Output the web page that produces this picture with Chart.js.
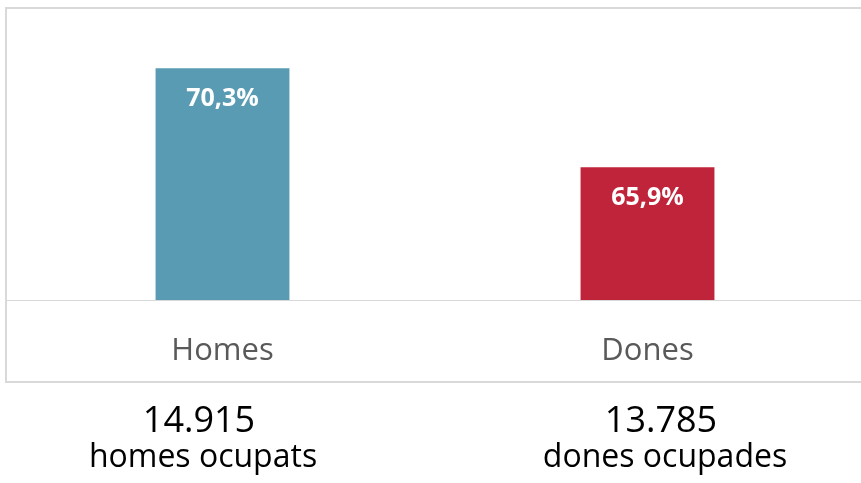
<!DOCTYPE html>
<html>
<head>
<meta charset="utf-8">
<script src="https://cdn.jsdelivr.net/npm/chart.js"></script>
<style>
  html, body { margin: 0; padding: 0; background: #fff; }
  #wrap { width: 861px; height: 483px; }
</style>
</head>
<body>
<div id="wrap"><canvas id="myChart" width="861" height="483"></canvas></div>
<script>
const categories = ["Homes", "Dones"]
const rates = [70.3, 65.9]          // % ocupats
const occupied = [14915, 13785]
const occupiedLabels = ["homes ocupats", "dones ocupades"]
const barColors = ["#599bb3", "#c0243a"]

const FONT = "'Open Sans', 'Liberation Sans', sans-serif"

const fmtPct = v => v.toFixed(1).replace('.', ',') + '%'
const fmtThousands = v => v.toString().replace(/\B(?=(\d{3})+(?!\d))/g, '.')

// box, baseline, value labels and the occupied counts under the box
const extras = {
  id: 'extras',
  beforeDraw(chart) {
    const ctx = chart.ctx
    const area = chart.chartArea
    ctx.save()
    ctx.strokeStyle = '#d9d9d9'
    ctx.lineWidth = 2
    ctx.strokeRect(6, 8, 870, 374)
    ctx.lineWidth = 1
    ctx.beginPath()
    ctx.moveTo(7, area.bottom + 0.5)
    ctx.lineTo(861, area.bottom + 0.5)
    ctx.stroke()
    ctx.restore()
  },
  afterDraw(chart) {
    const ctx = chart.ctx
    const meta = chart.getDatasetMeta(0)
    ctx.save()
    ctx.textAlign = 'center'
    ctx.textBaseline = 'middle'
    ctx.fillStyle = '#ffffff'
    ctx.font = `bold 25px ${FONT}`
    meta.data.forEach((bar, i) => {
      ctx.fillText(fmtPct(rates[i]), bar.x, bar.y + 31)
    })
    ctx.fillStyle = '#000000'
    ctx.textBaseline = 'alphabetic'
    const centers = [199, 661]
    meta.data.forEach((bar, i) => {
      ctx.font = `36px ${FONT}`
      ctx.fillText(fmtThousands(occupied[i]), centers[i], 432)
      ctx.font = `32px ${FONT}`
      ctx.fillText(occupiedLabels[i], centers[i] + 4, 467)
    })
    ctx.restore()
  }
}

new Chart(document.getElementById('myChart'), {
  type: 'bar',
  data: {
    labels: categories,
    datasets: [{
      data: rates,
      backgroundColor: barColors,
      borderWidth: 0,
      barPercentage: 0.315,
      categoryPercentage: 1
    }]
  },
  options: {
    responsive: false,
    animation: false,
    layout: { padding: { top: 30, left: 10, right: 1, bottom: 0 } },
    plugins: { legend: { display: false }, tooltip: { enabled: false } },
    scales: {
      x: {
        grid: { display: false, drawTicks: false },
        border: { display: false },
        ticks: { color: '#595959', font: { family: FONT, size: 31 }, padding: 33 },
        afterFit(scale) { scale.height = 183 }
      },
      y: { display: false, min: 60, max: 72 }
    }
  },
  plugins: [extras]
})
</script>
</body>
</html>
